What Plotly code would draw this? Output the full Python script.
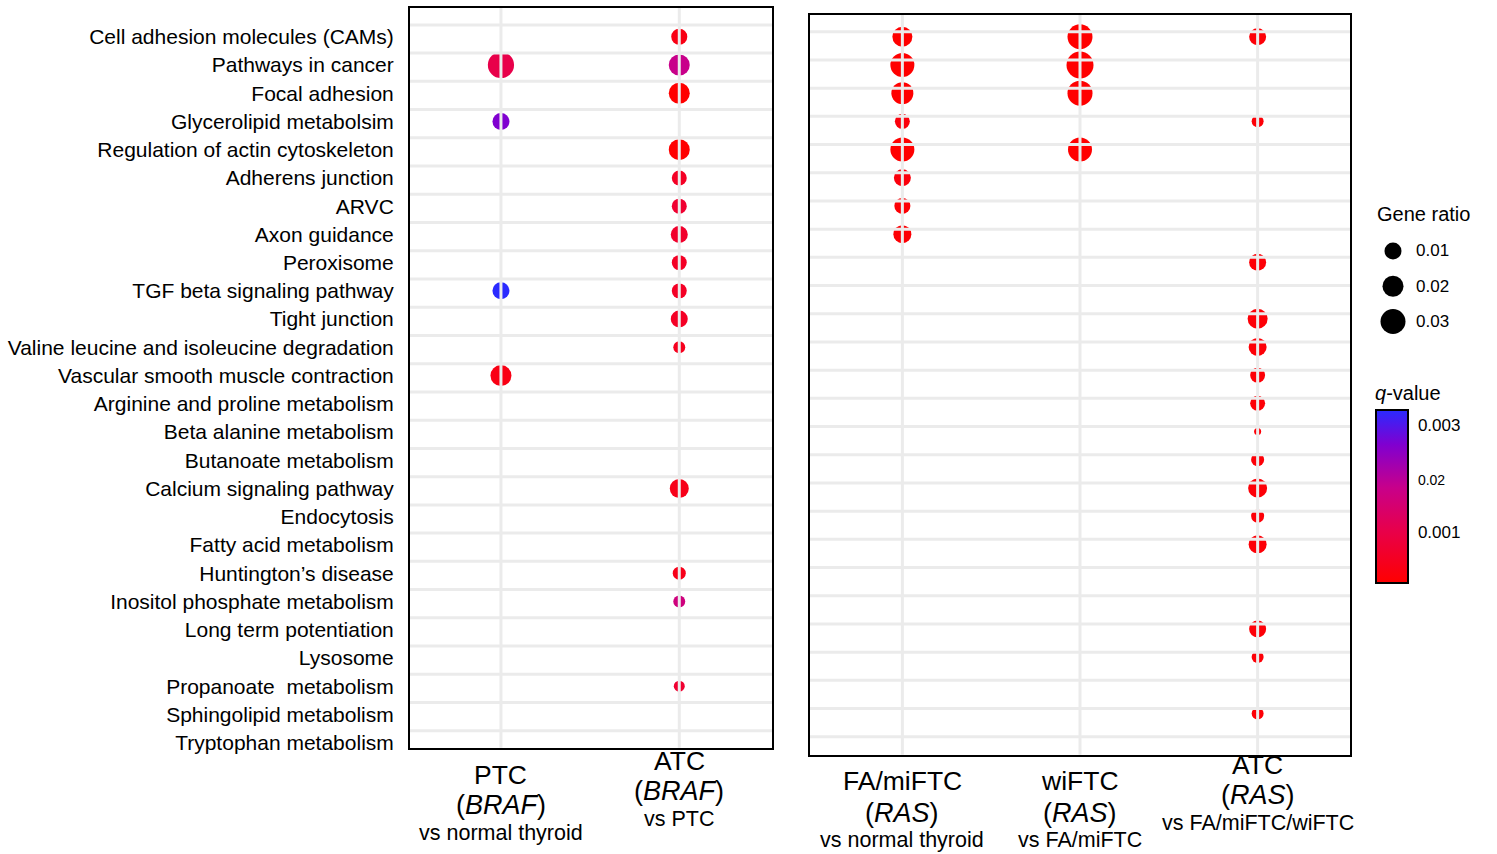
import numpy as np
import plotly.graph_objects as go

# ---------------- data ----------------
PATHWAYS = [
    "Cell adhesion molecules (CAMs)", "Pathways in cancer", "Focal adhesion",
    "Glycerolipid metabolsim", "Regulation of actin cytoskeleton", "Adherens junction",
    "ARVC", "Axon guidance", "Peroxisome", "TGF beta signaling pathway",
    "Tight junction", "Valine leucine and isoleucine degradation",
    "Vascular smooth muscle contraction", "Arginine and proline metabolism",
    "Beta alanine metabolism", "Butanoate metabolism", "Calcium signaling pathway",
    "Endocytosis", "Fatty acid metabolism", "Huntington\u2019s disease",
    "Inositol phosphate metabolism", "Long term potentiation", "Lysosome",
    "Propanoate  metabolism", "Sphingolipid metabolism", "Tryptophan metabolism",
]

LEFT_COLS = ["PTC_BRAF", "ATC_BRAF"]
RIGHT_COLS = ["FA_RAS", "wiFTC_RAS", "ATC_RAS"]

# column labels (title, gene, comparison)
COL_TITLE = {"PTC_BRAF": "PTC", "ATC_BRAF": "ATC", "FA_RAS": "FA/miFTC",
             "wiFTC_RAS": "wiFTC", "ATC_RAS": "ATC"}
COL_GENE = {"PTC_BRAF": "BRAF", "ATC_BRAF": "BRAF", "FA_RAS": "RAS",
            "wiFTC_RAS": "RAS", "ATC_RAS": "RAS"}
COL_VS = {"PTC_BRAF": "vs normal thyroid", "ATC_BRAF": "vs PTC",
          "FA_RAS": "vs normal thyroid", "wiFTC_RAS": "vs FA/miFTC",
          "ATC_RAS": "vs FA/miFTC/wiFTC"}

# PTC (BRAF) vs normal thyroid
ptc_braf_paths = ["Pathways in cancer", "Glycerolipid metabolsim",
                  "TGF beta signaling pathway", "Vascular smooth muscle contraction"]
ptc_braf_ratio = [0.033, 0.010, 0.010, 0.020]
ptc_braf_q = [0.30, 0.80, 1.00, 0.08]

# ATC (BRAF) vs PTC
atc_braf_paths = ["Cell adhesion molecules (CAMs)", "Pathways in cancer", "Focal adhesion",
                  "Regulation of actin cytoskeleton", "Adherens junction", "ARVC",
                  "Axon guidance", "Peroxisome", "TGF beta signaling pathway",
                  "Tight junction", "Valine leucine and isoleucine degradation",
                  "Calcium signaling pathway", "Huntington\u2019s disease",
                  "Inositol phosphate metabolism", "Propanoate  metabolism"]
atc_braf_ratio = [0.0092, 0.020, 0.020, 0.020, 0.0083, 0.0083, 0.010, 0.0083,
                  0.0083, 0.010, 0.0058, 0.015, 0.0067, 0.0058, 0.0050]
atc_braf_q = [0.08, 0.55, 0.0, 0.0, 0.15, 0.20, 0.18, 0.15, 0.15, 0.15, 0.12,
              0.10, 0.10, 0.50, 0.20]

# FA/miFTC (RAS) vs normal thyroid
fa_ras_paths = ["Cell adhesion molecules (CAMs)", "Pathways in cancer", "Focal adhesion",
                "Glycerolipid metabolsim", "Regulation of actin cytoskeleton",
                "Adherens junction", "ARVC", "Axon guidance"]
fa_ras_ratio = [0.0175, 0.0275, 0.0225, 0.0083, 0.0275, 0.010, 0.0092, 0.0125]
fa_ras_q = [0.0, 0.0, 0.0, 0.05, 0.0, 0.05, 0.02, 0.02]

# wiFTC (RAS) vs FA/miFTC
wi_ras_paths = ["Cell adhesion molecules (CAMs)", "Pathways in cancer", "Focal adhesion",
                "Regulation of actin cytoskeleton"]
wi_ras_ratio = [0.030, 0.035, 0.030, 0.0275]
wi_ras_q = [0.0, 0.0, 0.0, 0.0]

# ATC (RAS) vs FA/miFTC/wiFTC
atc_ras_paths = ["Cell adhesion molecules (CAMs)", "Glycerolipid metabolsim", "Peroxisome",
                 "Tight junction", "Valine leucine and isoleucine degradation",
                 "Vascular smooth muscle contraction", "Arginine and proline metabolism",
                 "Beta alanine metabolism", "Butanoate metabolism",
                 "Calcium signaling pathway", "Endocytosis", "Fatty acid metabolism",
                 "Long term potentiation", "Lysosome", "Sphingolipid metabolism"]
atc_ras_ratio = [0.010, 0.0058, 0.010, 0.0175, 0.0125, 0.0083, 0.0083, 0.0017,
                 0.0067, 0.015, 0.0067, 0.0125, 0.010, 0.0058, 0.0058]
atc_ras_q = [0.03] * 15

LEGEND_RATIOS = [0.01, 0.02, 0.03]
LEGEND_LABELS = ["0.01", "0.02", "0.03"]
Q_TICKVALS = [0.29, 0.60, 0.91]
Q_TICKTEXT = ["0.001", "<span style='font-size:14px'>0.02</span>", "0.003"]

# ---------------- scales ----------------
SIZE_DOMAIN = [0.0, 0.01, 0.02, 0.03, 0.04]
SIZE_RANGE = [5, 17, 21, 25, 29]


def diam(r):
    return np.interp(np.asarray(r, dtype=float), SIZE_DOMAIN, SIZE_RANGE)


COLORSCALE = [[0.0, "#ff0000"], [0.3, "#e8004a"], [0.55, "#c8008a"],
              [0.8, "#8000d0"], [1.0, "#2a2aff"]]

FONT = "Liberation Sans, Arial, sans-serif"
W, H = 1497, 854
GRID = "#ebebeb"

fig = go.Figure()

series = [
    ("PTC_BRAF", ptc_braf_paths, ptc_braf_ratio, ptc_braf_q, "x", "y"),
    ("ATC_BRAF", atc_braf_paths, atc_braf_ratio, atc_braf_q, "x", "y"),
    ("FA_RAS", fa_ras_paths, fa_ras_ratio, fa_ras_q, "x2", "y2"),
    ("wiFTC_RAS", wi_ras_paths, wi_ras_ratio, wi_ras_q, "x2", "y2"),
    ("ATC_RAS", atc_ras_paths, atc_ras_ratio, atc_ras_q, "x2", "y2"),
]
for col, paths, ratio, q, xa, ya in series:
    fig.add_trace(go.Scatter(
        x=[col] * len(paths), y=paths, mode="markers", xaxis=xa, yaxis=ya,
        marker=dict(size=diam(ratio), color=q, coloraxis="coloraxis",
                    line=dict(width=0), opacity=1),
        showlegend=False, hoverinfo="skip"))

# size key ("Gene ratio") drawn on its own small axes
fig.add_trace(go.Scatter(
    x=[0] * len(LEGEND_RATIOS), y=LEGEND_RATIOS, mode="markers",
    xaxis="x3", yaxis="y3", cliponaxis=False,
    marker=dict(size=diam(LEGEND_RATIOS), color="#000000", line=dict(width=0),
                opacity=1),
    showlegend=False, hoverinfo="skip"))


# ---------------- layout ----------------
def px_x(p):
    return p / W


def px_y(p):
    return 1 - p / H


n = len(PATHWAYS)
axis_common = dict(showline=True, mirror=True, linecolor="black", linewidth=2,
                   showgrid=False, zeroline=False, ticks="", fixedrange=True)
hidden = dict(visible=False, showgrid=False, zeroline=False, fixedrange=True)

fig.update_layout(
    width=W, height=H, margin=dict(l=0, r=0, t=0, b=0),
    paper_bgcolor="white", plot_bgcolor="white",
    font=dict(family=FONT, color="black"),
    showlegend=False,
    xaxis=dict(domain=[px_x(410), px_x(772)], type="category",
               categoryorder="array", categoryarray=LEFT_COLS,
               range=[-0.51, 1.52], showticklabels=False, **axis_common),
    yaxis=dict(domain=[px_y(753), px_y(8)], type="category",
               categoryorder="array", categoryarray=PATHWAYS,
               range=[n - 1 + 0.18, -1.02], tickfont=dict(size=21, family=FONT),
               ticklabelstandoff=10, anchor="x", **axis_common),
    xaxis2=dict(domain=[px_x(810), px_x(1350)], type="category",
                categoryorder="array", categoryarray=RIGHT_COLS,
                range=[-0.52, 2.52], showticklabels=False, anchor="y2", **axis_common),
    yaxis2=dict(domain=[px_y(760), px_y(15)], type="category",
                categoryorder="array", categoryarray=PATHWAYS,
                range=[n - 1 + 0.46, -0.775], showticklabels=False, anchor="x2",
                **axis_common),
    xaxis3=dict(domain=[px_x(1373), px_x(1413)], range=[-1, 1], anchor="y3", **hidden),
    yaxis3=dict(domain=[px_y(341.5), px_y(235)], range=[0.035, 0.005],
                anchor="x3", **hidden),
    coloraxis=dict(
        cmin=0, cmax=1, colorscale=COLORSCALE,
        colorbar=dict(
            x=px_x(1376), xanchor="left", xref="paper", xpad=0, ypad=0,
            y=px_y(486), yanchor="middle", yref="paper",
            len=200, lenmode="pixels", thickness=32, thicknessmode="pixels",
            outlinecolor="black", outlinewidth=2,
            tickvals=Q_TICKVALS, ticktext=Q_TICKTEXT, ticks="outside",
            tickcolor="white", ticklen=6, tickwidth=1,
            tickfont=dict(size=17, family=FONT),
            title=dict(text="<i>q</i>-value", side="top",
                       font=dict(size=20, family=FONT)),
        )),
)

# grid lines drawn above the dots (as in the original figure)
shapes = []
for k in range(n):
    shapes.append(dict(type="line", xref="x domain", yref="y", x0=0, x1=1,
                       y0=k - 0.42, y1=k - 0.42, layer="above",
                       line=dict(color=GRID, width=3)))
    shapes.append(dict(type="line", xref="x2 domain", yref="y2", x0=0, x1=1,
                       y0=k - 0.176, y1=k - 0.176, layer="above",
                       line=dict(color=GRID, width=3)))
for j in range(len(LEFT_COLS)):
    shapes.append(dict(type="line", xref="x", yref="y domain", x0=j, x1=j,
                       y0=0, y1=1, layer="above", line=dict(color=GRID, width=3)))
for j in range(len(RIGHT_COLS)):
    shapes.append(dict(type="line", xref="x2", yref="y2 domain", x0=j, x1=j,
                       y0=0, y1=1, layer="above", line=dict(color=GRID, width=3)))
fig.update_layout(shapes=shapes)

# column labels under the panels
LABEL_Y = {"PTC_BRAF": (780, 811, 839), "ATC_BRAF": (766, 797, 825),
           "FA_RAS": (787, 819, 846), "wiFTC_RAS": (787, 819, 846),
           "ATC_RAS": (770, 801, 829)}
ann = []
for col in LEFT_COLS + RIGHT_COLS:
    xr = "x" if col in LEFT_COLS else "x2"
    y1, y2, y3 = LABEL_Y[col]
    for txt, yy, sz in [(COL_TITLE[col], y1, 26.5),
                        ("(<i>" + COL_GENE[col] + "</i>)", y2, 27),
                        (COL_VS[col], y3, 21.5)]:
        ann.append(dict(x=col, xref=xr, y=px_y(yy), yref="paper", text=txt,
                        showarrow=False, xanchor="center", yanchor="middle",
                        font=dict(size=sz, family=FONT, color="black")))

# size key title and labels
ann.append(dict(x=px_x(1375), xref="paper", y=px_y(216), yref="paper",
                text="Gene ratio", showarrow=False, xanchor="left", yanchor="middle",
                font=dict(size=20, family=FONT, color="black")))
for r, lab in zip(LEGEND_RATIOS, LEGEND_LABELS):
    ann.append(dict(x=px_x(1414), xref="paper", y=r, yref="y3", text=lab,
                    showarrow=False, xanchor="left", yanchor="middle",
                    font=dict(size=17, family=FONT, color="black")))
fig.update_layout(annotations=ann)

fig.write_html("out.html")
